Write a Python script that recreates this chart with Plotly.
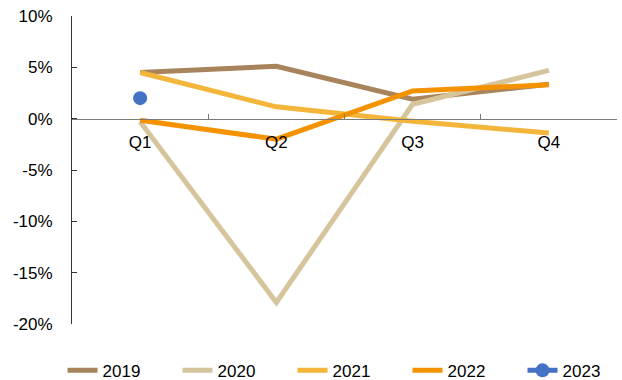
import plotly.graph_objects as go

quarters = ["Q1", "Q2", "Q3", "Q4"]
y2019 = [4.5, 5.1, 1.9, 3.35]
y2020 = [-0.3, -17.9, 1.4, 4.7]
y2021 = [4.5, 1.15, -0.25, -1.4]
y2022 = [-0.15, -2.0, 2.7, 3.3]
y2023 = [2.0]
tick_vals = [10, 5, 0, -5, -10, -15, -20]
tick_text = ["10%", "5%", "0%", "-5%", "-10%", "-15%", "-20%"]

series = [
    ("2019", y2019, "#A8845C"),
    ("2020", y2020, "#D6C49C"),
    ("2021", y2021, "#F4B63A"),
    ("2022", y2022, "#F59200"),
]

fig = go.Figure()
for name, vals, col in series:
    fig.add_trace(go.Scatter(x=quarters[:len(vals)], y=vals, name=name, mode="lines",
                             line=dict(color=col, width=5)))
fig.add_trace(go.Scatter(x=quarters[:len(y2023)], y=y2023, name="2023", mode="lines+markers",
                         line=dict(color="#4472C4", width=5),
                         marker=dict(color="#4472C4", size=14)))

font = "Liberation Sans, Arial, sans-serif"
fig.update_layout(
    width=622, height=380,
    margin=dict(l=72, r=5, t=15.5, b=56, autoexpand=False),
    plot_bgcolor="white", paper_bgcolor="white",
    font=dict(family=font, size=17, color="black"),
    showlegend=True,
    legend=dict(orientation="h", x=-0.0174, xanchor="left", y=-0.152, yanchor="middle",
                font=dict(size=17), entrywidth=70, entrywidthmode="pixels",
                traceorder="normal", bgcolor="rgba(0,0,0,0)"),
    xaxis=dict(type="category", categoryorder="array", categoryarray=quarters,
               range=[-0.5, 3.5], anchor="free", position=2/3,
               showline=True, linecolor="#7a7a7a", linewidth=1,
               ticks="inside", ticklen=5, tickcolor="#7a7a7a", tickson="boundaries",
               showgrid=False, zeroline=False, tickfont=dict(size=17),
               ticklabelstandoff=8),
    yaxis=dict(range=[-20, 10], tickvals=tick_vals, ticktext=tick_text,
               showline=True, linecolor="#333333", linewidth=1,
               ticks="inside", ticklen=5, tickcolor="#333333",
               showgrid=False, zeroline=False, ticklabelstandoff=15,
               tickfont=dict(size=17), domain=[0, 1]),
)
fig.write_html("out.html", config={"displayModeBar": False})
with open("out.html", "r", encoding="utf-8") as f:
    html = f.read()
html = html.replace("<head>", "<head><style>html,body{margin:0;padding:0;}</style>", 1)
with open("out.html", "w", encoding="utf-8") as f:
    f.write(html)
